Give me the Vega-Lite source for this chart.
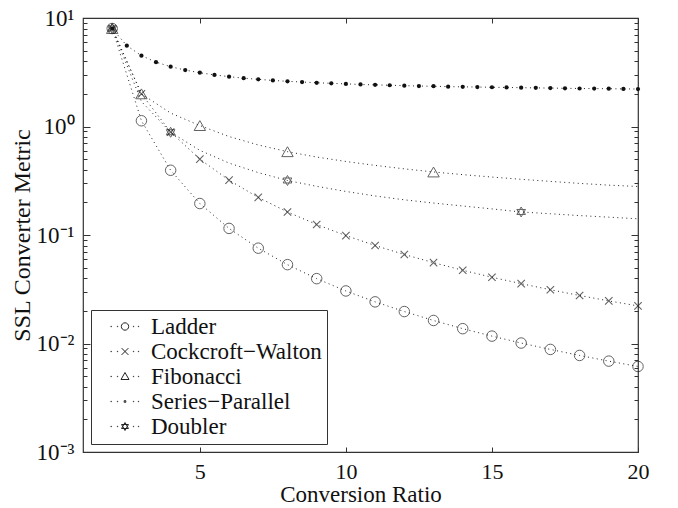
{
  "$schema": "https://vega.github.io/schema/vega-lite/v6.json",
  "width": 555,
  "height": 434,
  "autosize": {"type": "none"},
  "padding": {"left": 83, "top": 18, "right": 40, "bottom": 56},
  "background": "white",
  "data": {"values": [
    {"s": "Ladder", "n": 2, "m": 8, "mk": 1},
    {"s": "Ladder", "n": 3, "m": 1.13, "mk": 1},
    {"s": "Ladder", "n": 4, "m": 0.395, "mk": 1},
    {"s": "Ladder", "n": 5, "m": 0.195, "mk": 1},
    {"s": "Ladder", "n": 6, "m": 0.115, "mk": 1},
    {"s": "Ladder", "n": 7, "m": 0.0756, "mk": 1},
    {"s": "Ladder", "n": 8, "m": 0.0533, "mk": 1},
    {"s": "Ladder", "n": 9, "m": 0.0396, "mk": 1},
    {"s": "Ladder", "n": 10, "m": 0.0305, "mk": 1},
    {"s": "Ladder", "n": 11, "m": 0.0242, "mk": 1},
    {"s": "Ladder", "n": 12, "m": 0.0197, "mk": 1},
    {"s": "Ladder", "n": 13, "m": 0.0163, "mk": 1},
    {"s": "Ladder", "n": 14, "m": 0.0137, "mk": 1},
    {"s": "Ladder", "n": 15, "m": 0.0117, "mk": 1},
    {"s": "Ladder", "n": 16, "m": 0.0101, "mk": 1},
    {"s": "Ladder", "n": 17, "m": 0.00882, "mk": 1},
    {"s": "Ladder", "n": 18, "m": 0.00776, "mk": 1},
    {"s": "Ladder", "n": 19, "m": 0.00688, "mk": 1},
    {"s": "Ladder", "n": 20, "m": 0.00614, "mk": 1},
    {"s": "Cockcroft−Walton", "n": 2, "m": 8, "mk": 1},
    {"s": "Cockcroft−Walton", "n": 3, "m": 2, "mk": 1},
    {"s": "Cockcroft−Walton", "n": 4, "m": 0.889, "mk": 1},
    {"s": "Cockcroft−Walton", "n": 5, "m": 0.5, "mk": 1},
    {"s": "Cockcroft−Walton", "n": 6, "m": 0.32, "mk": 1},
    {"s": "Cockcroft−Walton", "n": 7, "m": 0.222, "mk": 1},
    {"s": "Cockcroft−Walton", "n": 8, "m": 0.163, "mk": 1},
    {"s": "Cockcroft−Walton", "n": 9, "m": 0.125, "mk": 1},
    {"s": "Cockcroft−Walton", "n": 10, "m": 0.0988, "mk": 1},
    {"s": "Cockcroft−Walton", "n": 11, "m": 0.08, "mk": 1},
    {"s": "Cockcroft−Walton", "n": 12, "m": 0.0661, "mk": 1},
    {"s": "Cockcroft−Walton", "n": 13, "m": 0.0556, "mk": 1},
    {"s": "Cockcroft−Walton", "n": 14, "m": 0.0473, "mk": 1},
    {"s": "Cockcroft−Walton", "n": 15, "m": 0.0408, "mk": 1},
    {"s": "Cockcroft−Walton", "n": 16, "m": 0.0356, "mk": 1},
    {"s": "Cockcroft−Walton", "n": 17, "m": 0.0313, "mk": 1},
    {"s": "Cockcroft−Walton", "n": 18, "m": 0.0277, "mk": 1},
    {"s": "Cockcroft−Walton", "n": 19, "m": 0.0247, "mk": 1},
    {"s": "Cockcroft−Walton", "n": 20, "m": 0.0222, "mk": 1},
    {"s": "Fibonacci", "n": 2, "m": 8, "mk": 1},
    {"s": "Fibonacci", "n": 3, "m": 2, "mk": 1},
    {"s": "Fibonacci", "n": 4, "m": 1.33, "mk": 0},
    {"s": "Fibonacci", "n": 5, "m": 1.02, "mk": 1},
    {"s": "Fibonacci", "n": 6, "m": 0.808, "mk": 0},
    {"s": "Fibonacci", "n": 7, "m": 0.676, "mk": 0},
    {"s": "Fibonacci", "n": 8, "m": 0.586, "mk": 1},
    {"s": "Fibonacci", "n": 9, "m": 0.523, "mk": 0},
    {"s": "Fibonacci", "n": 10, "m": 0.476, "mk": 0},
    {"s": "Fibonacci", "n": 11, "m": 0.438, "mk": 0},
    {"s": "Fibonacci", "n": 12, "m": 0.407, "mk": 0},
    {"s": "Fibonacci", "n": 13, "m": 0.381, "mk": 1},
    {"s": "Fibonacci", "n": 14, "m": 0.36, "mk": 0},
    {"s": "Fibonacci", "n": 15, "m": 0.342, "mk": 0},
    {"s": "Fibonacci", "n": 16, "m": 0.326, "mk": 0},
    {"s": "Fibonacci", "n": 17, "m": 0.312, "mk": 0},
    {"s": "Fibonacci", "n": 18, "m": 0.299, "mk": 0},
    {"s": "Fibonacci", "n": 19, "m": 0.288, "mk": 0},
    {"s": "Fibonacci", "n": 20, "m": 0.28, "mk": 0},
    {"s": "Series−Parallel", "n": 2, "m": 8, "mk": 1},
    {"s": "Series−Parallel", "n": 2.5, "m": 5.56, "mk": 1},
    {"s": "Series−Parallel", "n": 3, "m": 4.5, "mk": 1},
    {"s": "Series−Parallel", "n": 3.5, "m": 3.92, "mk": 1},
    {"s": "Series−Parallel", "n": 4, "m": 3.56, "mk": 1},
    {"s": "Series−Parallel", "n": 4.5, "m": 3.31, "mk": 1},
    {"s": "Series−Parallel", "n": 5, "m": 3.13, "mk": 1},
    {"s": "Series−Parallel", "n": 5.5, "m": 2.99, "mk": 1},
    {"s": "Series−Parallel", "n": 6, "m": 2.88, "mk": 1},
    {"s": "Series−Parallel", "n": 6.5, "m": 2.79, "mk": 1},
    {"s": "Series−Parallel", "n": 7, "m": 2.72, "mk": 1},
    {"s": "Series−Parallel", "n": 7.5, "m": 2.66, "mk": 1},
    {"s": "Series−Parallel", "n": 8, "m": 2.61, "mk": 1},
    {"s": "Series−Parallel", "n": 8.5, "m": 2.57, "mk": 1},
    {"s": "Series−Parallel", "n": 9, "m": 2.53, "mk": 1},
    {"s": "Series−Parallel", "n": 9.5, "m": 2.5, "mk": 1},
    {"s": "Series−Parallel", "n": 10, "m": 2.47, "mk": 1},
    {"s": "Series−Parallel", "n": 10.5, "m": 2.44, "mk": 1},
    {"s": "Series−Parallel", "n": 11, "m": 2.42, "mk": 1},
    {"s": "Series−Parallel", "n": 11.5, "m": 2.4, "mk": 1},
    {"s": "Series−Parallel", "n": 12, "m": 2.38, "mk": 1},
    {"s": "Series−Parallel", "n": 12.5, "m": 2.36, "mk": 1},
    {"s": "Series−Parallel", "n": 13, "m": 2.35, "mk": 1},
    {"s": "Series−Parallel", "n": 13.5, "m": 2.33, "mk": 1},
    {"s": "Series−Parallel", "n": 14, "m": 2.32, "mk": 1},
    {"s": "Series−Parallel", "n": 14.5, "m": 2.31, "mk": 1},
    {"s": "Series−Parallel", "n": 15, "m": 2.3, "mk": 1},
    {"s": "Series−Parallel", "n": 15.5, "m": 2.29, "mk": 1},
    {"s": "Series−Parallel", "n": 16, "m": 2.28, "mk": 1},
    {"s": "Series−Parallel", "n": 16.5, "m": 2.27, "mk": 1},
    {"s": "Series−Parallel", "n": 17, "m": 2.26, "mk": 1},
    {"s": "Series−Parallel", "n": 17.5, "m": 2.25, "mk": 1},
    {"s": "Series−Parallel", "n": 18, "m": 2.24, "mk": 1},
    {"s": "Series−Parallel", "n": 18.5, "m": 2.235, "mk": 1},
    {"s": "Series−Parallel", "n": 19, "m": 2.23, "mk": 1},
    {"s": "Series−Parallel", "n": 19.5, "m": 2.22, "mk": 1},
    {"s": "Series−Parallel", "n": 20, "m": 2.215, "mk": 1},
    {"s": "Doubler", "n": 2, "m": 8, "mk": 1},
    {"s": "Doubler", "n": 3, "m": 1.7, "mk": 0},
    {"s": "Doubler", "n": 4, "m": 0.885, "mk": 1},
    {"s": "Doubler", "n": 5, "m": 0.603, "mk": 0},
    {"s": "Doubler", "n": 6, "m": 0.46, "mk": 0},
    {"s": "Doubler", "n": 7, "m": 0.376, "mk": 0},
    {"s": "Doubler", "n": 8, "m": 0.318, "mk": 1},
    {"s": "Doubler", "n": 9, "m": 0.281, "mk": 0},
    {"s": "Doubler", "n": 10, "m": 0.252, "mk": 0},
    {"s": "Doubler", "n": 11, "m": 0.229, "mk": 0},
    {"s": "Doubler", "n": 12, "m": 0.211, "mk": 0},
    {"s": "Doubler", "n": 13, "m": 0.197, "mk": 0},
    {"s": "Doubler", "n": 14, "m": 0.185, "mk": 0},
    {"s": "Doubler", "n": 15, "m": 0.174, "mk": 0},
    {"s": "Doubler", "n": 16, "m": 0.163, "mk": 1},
    {"s": "Doubler", "n": 17, "m": 0.157, "mk": 0},
    {"s": "Doubler", "n": 18, "m": 0.151, "mk": 0},
    {"s": "Doubler", "n": 19, "m": 0.146, "mk": 0},
    {"s": "Doubler", "n": 20, "m": 0.141, "mk": 0}
  ]},
  "layer": [
    {
      "mark": {"type": "line", "strokeDash": [1, 3.5], "strokeWidth": 1},
      "encoding": {
        "x": {"field": "n", "type": "quantitative",
          "scale": {"domain": [1, 20], "nice": false, "zero": false},
          "axis": {"orient": "bottom", "values": [5, 10, 15, 20], "title": "Conversion Ratio",
            "grid": false, "domain": false, "tickSize": -5, "tickColor": "#333", "tickWidth": 1,
            "labelPadding": 14, "labelFlush": false, "labelFont": "Liberation Serif", "labelFontSize": 22, "labelColor": "#111",
            "titleFont": "Liberation Serif", "titleFontSize": 23, "titleFontWeight": "normal", "titleColor": "#111", "titlePadding": 1}},
        "y": {"field": "m", "type": "quantitative",
          "scale": {"type": "log", "domain": [0.001, 10], "nice": false},
          "axis": {"orient": "left",
            "values": [0.001,0.002,0.003,0.004,0.005,0.006,0.007,0.008,0.009,0.01,0.02,0.03,0.04,0.05,0.06,0.07,0.08,0.09,0.1,0.2,0.3,0.4,0.5,0.6,0.7,0.8,0.9,1,2,3,4,5,6,7,8,9,10],
            "labelExpr": "datum.value==10?'10¹':datum.value==1?'10⁰':datum.value==0.1?'10⁻¹':datum.value==0.01?'10⁻²':datum.value==0.001?'10⁻³':''",
            "labelOverlap": false, "labelFlush": false,
            "title": "SSL Converter Metric", "grid": false, "domain": false,
            "tickSize": {"condition": {"test": "datum.value==10||datum.value==1||datum.value==0.1||datum.value==0.01||datum.value==0.001", "value": -7}, "value": -4},
            "tickColor": "#333", "tickWidth": 1,
            "labelPadding": 16, "labelFont": "Liberation Serif", "labelFontSize": 23, "labelColor": "#111",
            "titleFont": "Liberation Serif", "titleFontSize": 24, "titleFontWeight": "normal", "titleColor": "#111", "titlePadding": 2}},
        "color": {"field": "s", "type": "nominal",
          "scale": {"domain": ["Ladder", "Cockcroft−Walton", "Fibonacci", "Series−Parallel", "Doubler"],
            "range": ["#222", "#222", "#222", "#222", "#222"]},
          "legend": {"title": null, "orient": "bottom-left", "offset": 8, "padding": 5,
            "strokeColor": "#333", "fillColor": "white",
            "labelFont": "Liberation Serif", "labelFontSize": 23, "labelColor": "#111", "labelOffset": 32, "labelLimit": 400,
            "symbolSize": 64, "rowPadding": 1,
            "encode": {"symbols": {"update": {
              "shape": {"signal": "(datum.index==0?'M5.295,0A0.92,0.92,0,1,1,3.455,0A0.92,0.92,0,1,1,5.295,0Z':datum.index==1?'M3.525,-0.85L5.225,0.85M3.525,0.85L5.225,-0.85':datum.index==2?'M4.375,-1L5.375,0.75L3.375,0.75Z':datum.index==3?'M4.175,-0.2h0.4v0.4h-0.4Z':'M4.375,-1L5.241,0.5L3.509,0.5ZM4.375,1L5.241,-0.5L3.509,-0.5Z')+'M0.85,-0.06h0.12v0.12h-0.12ZM2.45,-0.06h0.12v0.12h-0.12ZM6.45,-0.06h0.12v0.12h-0.12ZM7.7,-0.06h0.12v0.12h-0.12Z'"},
              "stroke": {"value": "#222"},
              "strokeWidth": {"value": 1},
              "strokeDash": {"value": []},
              "fill": {"value": "transparent"},
              "size": {"value": 64}
            }}}}}
      }
    },
    {
      "transform": [{"filter": "datum.s=='Ladder' && datum.mk==1"}],
      "mark": {"type": "point", "shape": "circle", "size": 110, "filled": false, "stroke": "#222", "strokeWidth": 1},
      "encoding": {
        "x": {"field": "n", "type": "quantitative",
          "axis": {"orient": "top", "values": [5, 10, 15, 20], "labels": false, "title": null, "grid": false, "domain": false, "tickSize": -5, "tickColor": "#333", "tickWidth": 1}},
        "y": {"field": "m", "type": "quantitative",
          "axis": {"orient": "right",
            "values": [0.001,0.002,0.003,0.004,0.005,0.006,0.007,0.008,0.009,0.01,0.02,0.03,0.04,0.05,0.06,0.07,0.08,0.09,0.1,0.2,0.3,0.4,0.5,0.6,0.7,0.8,0.9,1,2,3,4,5,6,7,8,9,10],
            "labels": false, "title": null, "grid": false, "domain": false,
            "tickSize": {"condition": {"test": "datum.value==10||datum.value==1||datum.value==0.1||datum.value==0.01||datum.value==0.001", "value": -7}, "value": -4},
            "tickColor": "#333", "tickWidth": 1}}
      }
    },
    {
      "transform": [{"filter": "datum.s=='Cockcroft−Walton' && datum.mk==1"}],
      "mark": {"type": "point", "shape": "M-1,-1L1,1M-1,1L1,-1", "size": 55, "filled": false, "stroke": "#222", "strokeWidth": 1.1},
      "encoding": {
        "x": {"field": "n", "type": "quantitative", "axis": null},
        "y": {"field": "m", "type": "quantitative", "axis": null}
      }
    },
    {
      "transform": [{"filter": "datum.s=='Fibonacci' && datum.mk==1"}],
      "mark": {"type": "point", "shape": "triangle-up", "size": 130, "filled": false, "stroke": "#222", "strokeWidth": 1},
      "encoding": {
        "x": {"field": "n", "type": "quantitative", "axis": null},
        "y": {"field": "m", "type": "quantitative", "axis": null}
      }
    },
    {
      "transform": [{"filter": "datum.s=='Series−Parallel' && datum.mk==1"}],
      "mark": {"type": "point", "shape": "circle", "size": 18, "filled": true, "fill": "#111", "opacity": 1},
      "encoding": {
        "x": {"field": "n", "type": "quantitative", "axis": null},
        "y": {"field": "m", "type": "quantitative", "axis": null}
      }
    },
    {
      "transform": [{"filter": "datum.s=='Doubler' && datum.mk==1"}],
      "mark": {"type": "point", "shape": "M0,-1L0.866,0.5L-0.866,0.5ZM0,1L0.866,-0.5L-0.866,-0.5Z", "size": 100, "filled": false, "stroke": "#222", "strokeWidth": 1},
      "encoding": {
        "x": {"field": "n", "type": "quantitative", "axis": null},
        "y": {"field": "m", "type": "quantitative", "axis": null}
      }
    }
  ],
  "config": {
    "view": {"stroke": "#333", "strokeWidth": 1.2},
    "font": "Liberation Serif"
  }
}
